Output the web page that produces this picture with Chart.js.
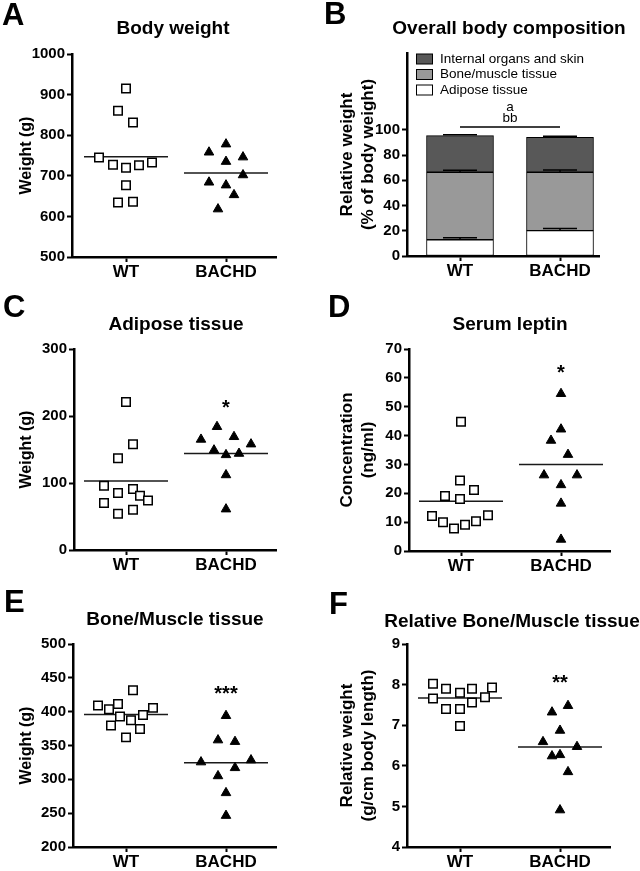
<!DOCTYPE html>
<html>
<head>
<meta charset="utf-8">
<script src="https://cdn.jsdelivr.net/npm/chart.js@4.4.0/dist/chart.umd.min.js"></script>
<style>
  body { margin: 0; background: #fff; }
  #page { position: relative; width: 640px; height: 871px; }
  canvas { position: absolute; }
</style>
</head>
<body>
<div id="page">
  <canvas id="panelA" width="320" height="290" style="left:0;top:0"></canvas>
  <canvas id="panelB" width="320" height="290" style="left:320px;top:0"></canvas>
  <canvas id="panelC" width="320" height="290" style="left:0;top:290px"></canvas>
  <canvas id="panelD" width="320" height="290" style="left:320px;top:290px"></canvas>
  <canvas id="panelE" width="320" height="291" style="left:0;top:580px"></canvas>
  <canvas id="panelF" width="320" height="291" style="left:320px;top:580px"></canvas>
</div>
<script>
const groups = ['WT', 'BACHD'];

// A - body weight (g); jitter is the horizontal spread within a group (category units)
const bodyWT = [915, 860, 831, 745, 727, 720, 726, 733, 677, 634, 636];
const bodyWTJitter = [0, -0.08, 0.07, -0.27, -0.13, 0, 0.13, 0.26, 0, -0.08, 0.07];
const bodyBACHD = [778, 758, 746, 735, 702, 684, 677, 653, 618];
const bodyBACHDJitter = [0, -0.17, 0.17, 0, 0.17, -0.17, 0, 0.08, -0.08];
const bodyMeans = [747, 707];

// B - overall body composition (% of body weight), bottom to top
const compLabels = ['Adipose tissue', 'Bone/muscle tissue', 'Internal organs and skin'];
const compWT = [12.9, 53.5, 29.1];
const compBACHD = [20.1, 46.3, 27.7];
const compSemWT = [1.6, 1.6, 0.6];
const compSemBACHD = [1.8, 1.9, 0.8];
const compSignif = ['a', 'bb'];
const compSignifLevel = 102.4;

// C - adipose tissue (g)
const adiposeWT = [221, 158, 137, 96, 85, 91, 81, 74, 70, 54, 60];
const adiposeWTJitter = [0, 0.07, -0.08, -0.22, -0.08, 0.07, 0.14, 0.22, -0.22, -0.08, 0.07];
const adiposeBACHD = [184, 165, 169, 158, 149, 142, 144, 112, 61];
const adiposeBACHDJitter = [-0.09, -0.25, 0.08, 0.25, -0.12, 0, 0.13, 0, 0];
const adiposeMeans = [103, 144];

// D - serum leptin (ng/ml)
const leptinWT = [44.8, 24.4, 19.1, 18.0, 21.1, 12.1, 10.0, 7.8, 9.1, 10.3, 12.4];
const leptinWTJitter = [0, -0.01, -0.16, -0.01, 0.13, -0.29, -0.18, -0.07, 0.04, 0.15, 0.27];
const leptinBACHD = [54.5, 42.2, 38.3, 33.4, 26.3, 26.3, 22.9, 16.5, 4.0];
const leptinBACHDJitter = [0, 0, -0.1, 0.07, -0.17, 0.16, 0, 0, 0];
const leptinMeans = [17.2, 30.0];

// E - bone/muscle tissue (g)
const boneWT = [431.8, 409, 403.6, 411.5, 405.6, 392.7, 395.2, 387.3, 379.4, 374.4, 362];
const boneWTJitter = [0.07, -0.28, -0.17, -0.08, 0.27, -0.06, 0.17, 0.05, -0.15, 0.14, 0];
const boneBACHD = [394, 358, 355.7, 325.5, 328.5, 317, 305, 280, 246.4];
const boneBACHDJitter = [0, -0.08, 0.09, -0.25, 0.25, 0.09, -0.08, 0, 0];
const boneMeans = [395.7, 324.5];

// F - relative bone/muscle tissue (g/cm body length)
const relBoneWT = [8.02, 7.90, 7.80, 7.90, 7.93, 7.66, 7.69, 7.56, 7.40, 7.40, 6.98];
const relBoneWTJitter = [-0.27, -0.14, 0, 0.12, 0.32, -0.27, 0.25, 0.12, -0.14, 0, 0];
const relBoneBACHD = [7.48, 7.32, 6.87, 6.59, 6.47, 6.24, 6.27, 5.85, 4.91];
const relBoneBACHDJitter = [0.08, -0.08, 0, -0.17, 0.17, -0.08, 0, 0.08, 0];
const relBoneMeans = [7.67, 6.46];

const FONT = '"Liberation Sans", Arial, Helvetica, sans-serif';
Chart.defaults.font.family = FONT;
Chart.defaults.color = '#000';
Chart.defaults.animation = false;

// panel letter, title and significance stars
function decor(p) {
    return {
        id: 'decor',
        afterDraw(chart) {
            const ctx = chart.ctx;
            ctx.save();
            ctx.fillStyle = '#000';
            ctx.textBaseline = 'middle';
            ctx.textAlign = 'left';
            ctx.font = `bold 31px ${FONT}`;
            ctx.fillText(p.letter, p.letterX, p.letterY);
            ctx.textAlign = 'center';
            ctx.font = `bold 19px ${FONT}`;
            ctx.fillText(p.title, p.titleX, p.titleY);
            if (p.stars) {
                ctx.font = `bold 20px ${FONT}`;
                const x = chart.scales.x.getPixelForValue(1);
                const y = chart.scales.y.getPixelForValue(p.starsAt);
                ctx.fillText(p.stars, x, y + 5);
            }
            ctx.restore();
        }
    };
}

function yAxis(p) {
    const twoLines = Array.isArray(p.yTitle);
    return {
        min: p.yMin,
        max: p.yMax,
        afterBuildTicks: (s) => {
            if (p.yTickMax !== undefined) s.ticks = s.ticks.filter((t) => t.value <= p.yTickMax);
        },
        ticks: {
            stepSize: p.yStep,
            callback: (v) => String(v),
            font: { size: 15, weight: 'bold' },
            padding: 2,
            color: '#000',
        },
        grid: { drawOnChartArea: false, tickLength: 5, tickColor: '#000', tickWidth: 2 },
        border: { color: '#000', width: 2.5 },
        title: {
            display: true,
            text: p.yTitle,
            color: '#000',
            font: { size: twoLines ? 17 : 16, weight: 'bold' },
            padding: { top: twoLines ? 17.3 : 17.4, bottom: 0 },
        },
        afterFit: (s) => { s.width = p.area[0]; },
    };
}

function xAxis(p, h) {
    return {
        type: 'linear',
        min: p.xMin,
        max: p.xMax,
        offset: false,
        afterBuildTicks: (s) => { s.ticks = groups.map((g, i) => ({ value: i })); },
        ticks: {
            callback: (v) => groups[v],
            font: { size: 17, weight: 'bold' },
            padding: 0,
            color: '#000',
            maxRotation: 0,
            autoSkip: false,
        },
        grid: { drawOnChartArea: false, offset: false, tickLength: 5, tickColor: '#000', tickWidth: 2 },
        border: { color: '#000', width: 2.5 },
        afterFit: (s) => { s.height = h - p.area[3]; },
    };
}

function baseOptions(p, h) {
    return {
        responsive: false,
        animation: false,
        layout: { padding: { left: 0, top: p.area[1], right: 320 - p.area[2], bottom: 0 } },
        plugins: { legend: { display: false }, tooltip: { enabled: false } },
        scales: { x: xAxis(p, h), y: yAxis(p) },
    };
}

function scatterPanel(id, p) {
    const canvas = document.getElementById(id);
    const toPoints = (vals, jitter, g) => vals.map((v, i) => ({ x: g + jitter[i], y: v }));
    const meanLines = p.means.map((m, g) => ({
        data: [{ x: g - 0.42, y: m }, { x: g + 0.42, y: m }],
        showLine: true,
        pointRadius: 0,
        borderColor: '#1a1a1a',
        borderWidth: 1.5,
    }));
    new Chart(canvas, {
        type: 'scatter',
        data: {
            datasets: [
                {
                    label: 'WT',
                    data: toPoints(p.wt, p.wtJitter, 0),
                    pointStyle: 'rect',
                    pointRadius: 6,
                    backgroundColor: '#fff',
                    borderColor: '#000',
                    borderWidth: 1.5,
                },
                {
                    label: 'BACHD',
                    data: toPoints(p.bachd, p.bachdJitter, 1),
                    pointStyle: 'triangle',
                    pointRadius: 5.5,
                    backgroundColor: '#000',
                    borderColor: '#000',
                    borderWidth: 1,
                },
                ...meanLines,
            ]
        },
        options: baseOptions(p, canvas.height),
        plugins: [decor(p)],
    });
}

scatterPanel('panelA', {
    letter: 'A', letterX: 2, letterY: 16, title: 'Body weight', titleX: 173, titleY: 29,
    area: [72, 54, 276, 257], xMin: -0.54, xMax: 1.5,
    yMin: 500, yMax: 1000, yStep: 100, yTitle: 'Weight (g)',
    wt: bodyWT, wtJitter: bodyWTJitter, bachd: bodyBACHD, bachdJitter: bodyBACHDJitter, means: bodyMeans,
});

scatterPanel('panelC', {
    letter: 'C', letterX: 3, letterY: 18, title: 'Adipose tissue', titleX: 176, titleY: 35,
    area: [74, 59, 276, 260], xMin: -0.52, xMax: 1.5,
    yMin: 0, yMax: 300, yStep: 100, yTitle: 'Weight (g)',
    wt: adiposeWT, wtJitter: adiposeWTJitter, bachd: adiposeBACHD, bachdJitter: adiposeBACHDJitter, means: adiposeMeans,
    stars: '*', starsAt: 219,
});

scatterPanel('panelD', {
    letter: 'D', letterX: 8, letterY: 18, title: 'Serum leptin', titleX: 190, titleY: 35,
    area: [89, 59, 290, 261], xMin: -0.52, xMax: 1.49,
    yMin: 0, yMax: 70, yStep: 10, yTitle: ['Concentration', '(ng/ml)'],
    wt: leptinWT, wtJitter: leptinWTJitter, bachd: leptinBACHD, bachdJitter: leptinBACHDJitter, means: leptinMeans,
    stars: '*', starsAt: 63.4,
});

scatterPanel('panelE', {
    letter: 'E', letterX: 4, letterY: 23, title: 'Bone/Muscle tissue', titleX: 175, titleY: 40,
    area: [73, 64, 276, 267], xMin: -0.53, xMax: 1.5,
    yMin: 200, yMax: 500, yStep: 50, yTitle: 'Weight (g)',
    wt: boneWT, wtJitter: boneWTJitter, bachd: boneBACHD, bachdJitter: boneBACHDJitter, means: boneMeans,
    stars: '***', starsAt: 433.5,
});

scatterPanel('panelF', {
    letter: 'F', letterX: 9, letterY: 25, title: 'Relative Bone/Muscle tissue', titleX: 192, titleY: 42,
    area: [87, 64, 290, 267], xMin: -0.53, xMax: 1.5,
    yMin: 4, yMax: 9, yStep: 1, yTitle: ['Relative weight', '(g/cm body length)'],
    wt: relBoneWT, wtJitter: relBoneWTJitter, bachd: relBoneBACHD, bachdJitter: relBoneBACHDJitter, means: relBoneMeans,
    stars: '**', starsAt: 8.155,
});

// B - stacked bars with error bars, legend and significance bracket
const compPanel = {
    letter: 'B', letterX: 4, letterY: 15, title: 'Overall body composition', titleX: 189, titleY: 29,
    area: [87, 53, 279, 256], xMin: -0.53, xMax: 1.39,
    yMin: 0, yMax: 161, yStep: 20, yTickMax: 100, yTitle: ['Relative weight', '(% of body weight)'],
};
const compShades = ['#ffffff', '#999999', '#585858'];

const compExtras = {
    id: 'compExtras',
    afterDatasetsDraw(chart) {
        const { ctx, scales: { x, y } } = chart;
        ctx.save();
        ctx.strokeStyle = '#000';
        ctx.lineWidth = 1.5;
        [compWT, compBACHD].forEach((vals, g) => {
            const sems = g ? compSemBACHD : compSemWT;
            const px = x.getPixelForValue(g);
            let top = 0;
            vals.forEach((v, i) => {
                top += v;
                const y0 = y.getPixelForValue(top);
                const y1 = y.getPixelForValue(top + sems[i]);
                ctx.beginPath();
                ctx.moveTo(px, y0);
                ctx.lineTo(px, y1);
                ctx.moveTo(px - 17, y1);
                ctx.lineTo(px + 17, y1);
                ctx.stroke();
            });
        });

        // significance bracket
        const ly = y.getPixelForValue(compSignifLevel);
        const x0 = x.getPixelForValue(0);
        const x1 = x.getPixelForValue(1);
        ctx.beginPath();
        ctx.moveTo(x0, ly);
        ctx.lineTo(x1, ly);
        ctx.stroke();
        ctx.fillStyle = '#000';
        ctx.font = `13.5px ${FONT}`;
        ctx.textAlign = 'center';
        ctx.textBaseline = 'middle';
        ctx.fillText(compSignif[0], (x0 + x1) / 2, ly - 20);
        ctx.fillText(compSignif[1], (x0 + x1) / 2, ly - 9);

        // legend, top layer first
        ctx.textAlign = 'left';
        ctx.lineWidth = 1;
        chart.data.datasets.slice().reverse().forEach((ds, i) => {
            const cy = 59 + i * 15.5;
            ctx.fillStyle = ds.backgroundColor;
            ctx.fillRect(96.5, cy - 5, 16, 10);
            ctx.strokeStyle = '#000';
            ctx.strokeRect(96.5, cy - 5, 16, 10);
            ctx.fillStyle = '#000';
            ctx.fillText(ds.label, 120, cy);
        });
        ctx.restore();
    }
};

const compCanvas = document.getElementById('panelB');
const compOptions = baseOptions(compPanel, compCanvas.height);
compOptions.scales.x.stacked = true;
compOptions.scales.y.stacked = true;

new Chart(compCanvas, {
    type: 'bar',
    data: {
        datasets: compLabels.map((label, i) => ({
            label,
            data: [{ x: 0, y: compWT[i] }, { x: 1, y: compBACHD[i] }],
            backgroundColor: compShades[i],
            borderColor: '#000',
            borderWidth: 1,
            borderSkipped: false,
            barThickness: 67,
        })),
    },
    options: compOptions,
    plugins: [decor(compPanel), compExtras],
});
</script>
</body>
</html>
